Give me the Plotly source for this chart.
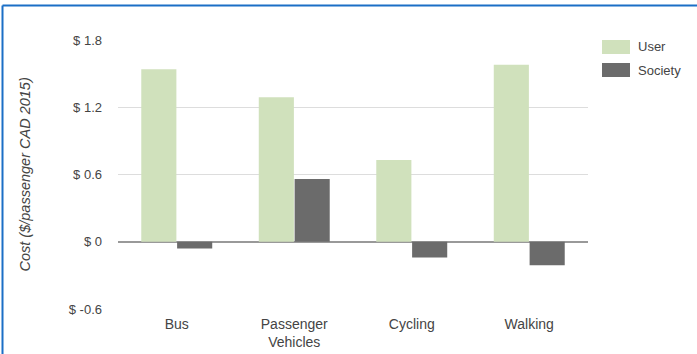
import plotly.graph_objects as go

# Cost per passenger by transport mode (CAD 2015)
categories = ["Bus", "Passenger<br>Vehicles", "Cycling", "Walking"]
user_cost = [1.54, 1.29, 0.73, 1.58]
society_cost = [-0.06, 0.56, -0.14, -0.21]
series_names = ["User", "Society"]
series_colors = ["#d0e1bc", "#6b6b6b"]
tick_values = [-0.6, 0, 0.6, 1.2, 1.8]
tick_labels = ["$ -0.6", "$ 0", "$ 0.6", "$ 1.2", "$ 1.8"]
axis_title = "Cost ($/passenger CAD 2015)"

FONT = "Liberation Sans, Arial, sans-serif"
TEXT = "#444444"

fig = go.Figure()
for name, vals, col in zip(series_names, [user_cost, society_cost], series_colors):
    fig.add_trace(go.Bar(
        x=categories, y=vals, name=name, marker_color=col,
        marker_line_width=0, showlegend=False,
    ))

fig.update_layout(
    width=697, height=354,
    margin=dict(l=118, r=109, t=40, b=45),
    paper_bgcolor="white", plot_bgcolor="white",
    barmode="group", bargap=0.39, bargroupgap=0.02,
    font=dict(family=FONT, size=13, color=TEXT),
)
fig.update_xaxes(
    showgrid=False, showline=False, ticks="", automargin=False,
    tickfont=dict(size=14, color=TEXT), ticklabelstandoff=5,
)
fig.update_yaxes(
    range=[-0.6, 1.8], tickvals=tick_values, ticktext=tick_labels,
    showgrid=True, gridcolor="#dddddd", gridwidth=1,
    zeroline=True, zerolinecolor="#999999", zerolinewidth=1.5,
    showline=False, ticks="", ticklabelstandoff=15, automargin=False,
    tickfont=dict(size=13, color=TEXT),
)

# Rotated italic axis title
fig.add_annotation(
    text=axis_title, textangle=-90, xref="paper", yref="paper",
    x=-0.2, y=0.5, xanchor="center", yanchor="middle", showarrow=False,
    font=dict(family=FONT, size=14.5, color=TEXT, style="italic"),
)

# Legend with wide swatches on the right
px_w, px_h = 697 - 118 - 109, 354 - 40 - 45
def px_to_paper(x, y):
    return (x - 118) / px_w, 1 - (y - 40) / px_h

for i, (name, col) in enumerate(zip(series_names, series_colors)):
    top = 40 + i * 23
    x0, y0 = px_to_paper(602, top)
    x1, y1 = px_to_paper(630, top + 14)
    fig.add_shape(type="rect", xref="paper", yref="paper",
                  x0=x0, x1=x1, y0=y1, y1=y0, fillcolor=col, line_width=0)
    tx, ty = px_to_paper(636, top + 7)
    fig.add_annotation(text=name, xref="paper", yref="paper", x=tx, y=ty,
                       xanchor="left", yanchor="middle", showarrow=False,
                       font=dict(family=FONT, size=13, color=TEXT))

# Blue frame along the top and left edges
bx, by = px_to_paper(2.5, 5.5)
_, bb = px_to_paper(0, 354)
rx, _ = px_to_paper(697, 0)
fig.add_shape(type="line", xref="paper", yref="paper", x0=bx, x1=rx, y0=by, y1=by,
              line=dict(color="#1b6fc6", width=2))
fig.add_shape(type="line", xref="paper", yref="paper", x0=bx, x1=bx, y0=by, y1=bb,
              line=dict(color="#1b6fc6", width=2))

fig.write_html("out.html")
